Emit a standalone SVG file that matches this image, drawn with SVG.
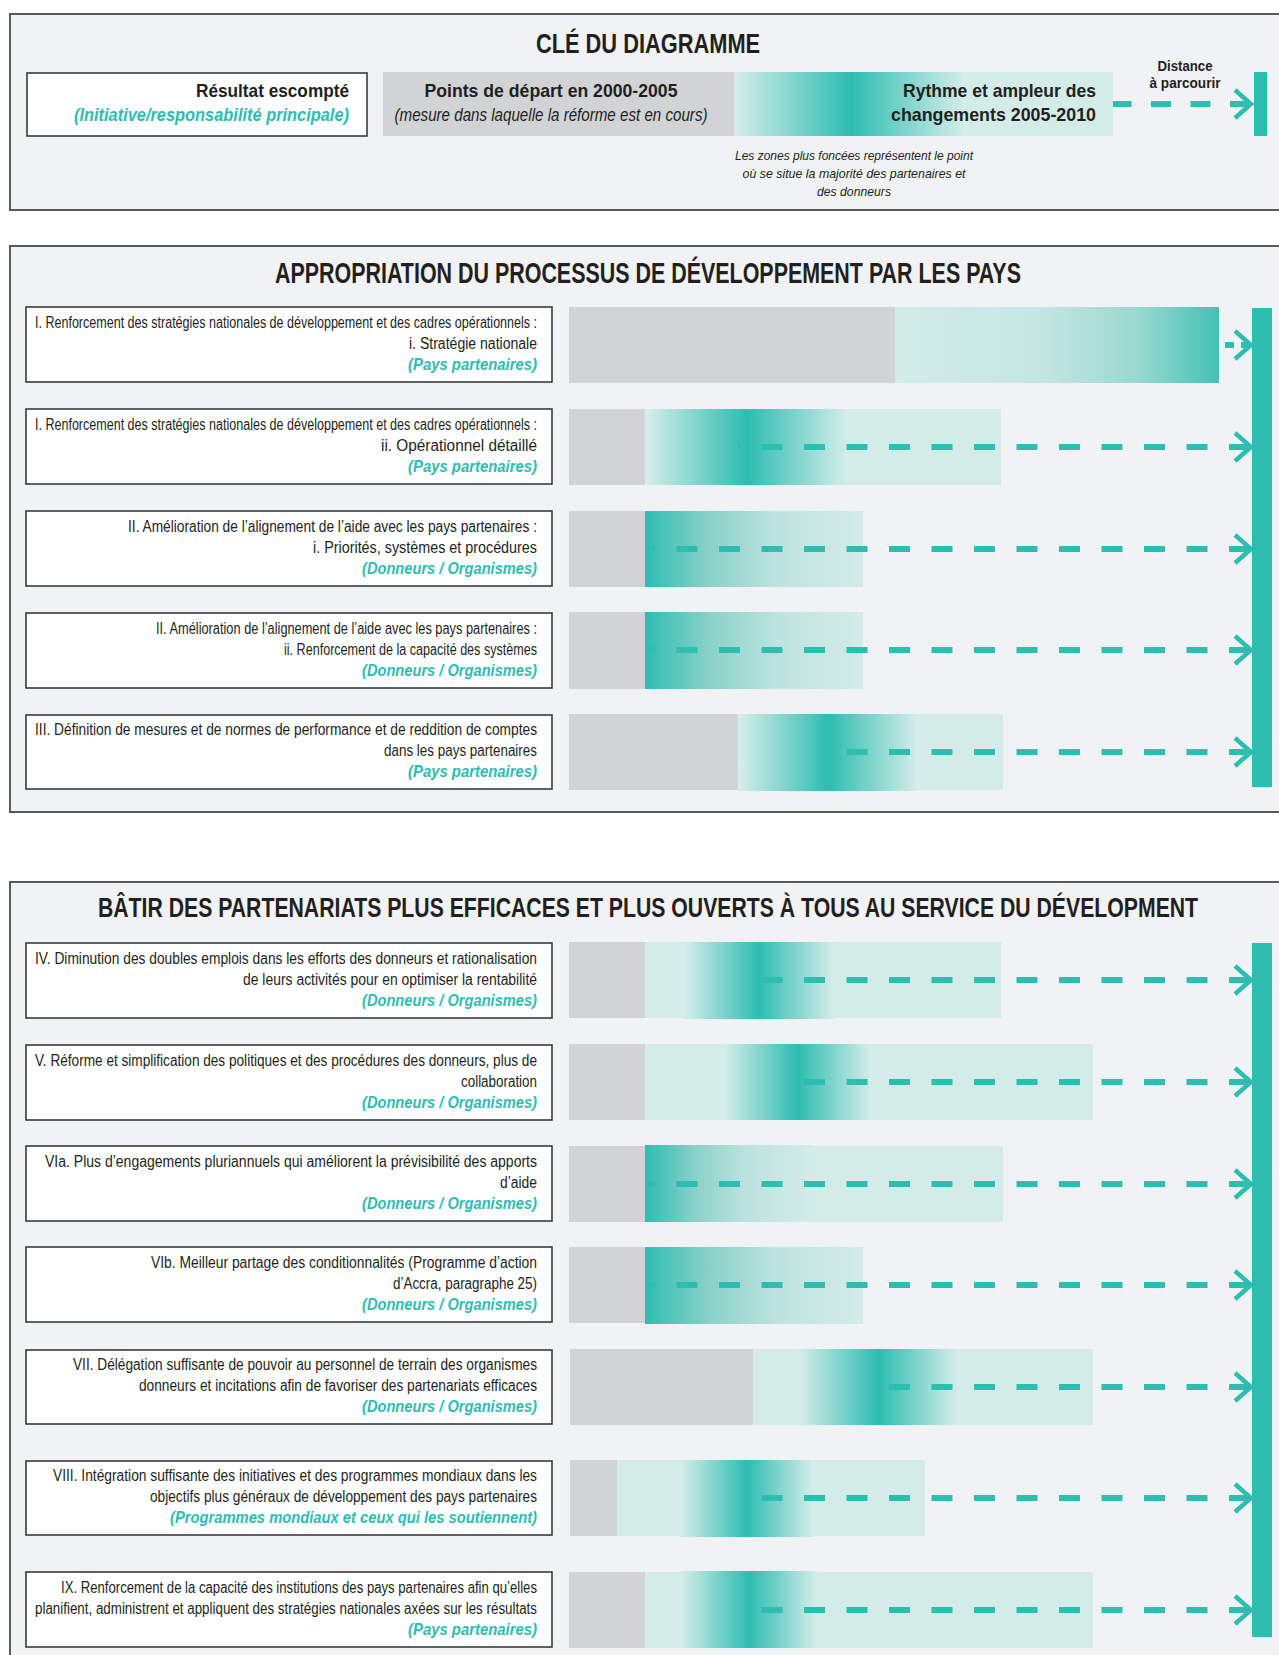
<svg xmlns="http://www.w3.org/2000/svg" width="1279" height="1655" viewBox="0 0 1279 1655">
<style>
.frame{fill:#f1f2f4;stroke:#58595b;stroke-width:2}
.box{fill:#ffffff;stroke:#3a3a3c;stroke-width:1.6}
.grey{fill:#d1d3d4}
.light{fill:#d3ece8}
.teal{fill:#2dbdb1}
.dash{fill:none;stroke:#2dbdb1;stroke-width:6;stroke-dasharray:21 21.5}
.chev{fill:none;stroke:#2dbdb1;stroke-width:4.5;stroke-linejoin:miter}
.t{font-family:"Liberation Sans Narrow","Liberation Sans",Arial,sans-serif;fill:#231f20;font-size:16px;text-anchor:end}
.lab{font-family:"Liberation Sans Narrow","Liberation Sans",Arial,sans-serif;fill:#2dbdb1;font-size:16.5px;font-weight:bold;font-style:italic;text-anchor:end}
.title{font-family:"Liberation Sans Narrow","Liberation Sans",Arial,sans-serif;fill:#231f20;font-weight:bold;text-anchor:middle}
.kb{font-family:"Liberation Sans Narrow","Liberation Sans",Arial,sans-serif;fill:#231f20;font-weight:bold;font-size:19px}
.ki{font-family:"Liberation Sans Narrow","Liberation Sans",Arial,sans-serif;fill:#231f20;font-style:italic;font-size:18px}
.note{font-family:"Liberation Sans Narrow","Liberation Sans",Arial,sans-serif;fill:#231f20;font-style:italic;font-size:13.5px;text-anchor:middle}
</style>
<defs>
<linearGradient id="gc" x1="0" y1="0" x2="1" y2="0">
<stop offset="0" stop-color="#d7eeea"/>
<stop offset="0.5" stop-color="#2dbdb1"/>
<stop offset="1" stop-color="#d7eeea"/>
</linearGradient>
<linearGradient id="gl" x1="0" y1="0" x2="1" y2="0">
<stop offset="0" stop-color="#2dbdb1"/>
<stop offset="0.3" stop-color="#8ad2c9"/>
<stop offset="0.6" stop-color="#bde3de"/>
<stop offset="1" stop-color="#d3ece8"/>
</linearGradient>
<linearGradient id="gr" x1="0" y1="0" x2="1" y2="0">
<stop offset="0" stop-color="#d3ece8"/>
<stop offset="0.45" stop-color="#c4e6e1"/>
<stop offset="0.75" stop-color="#9ad8cf"/>
<stop offset="1" stop-color="#45c1b5"/>
</linearGradient>
</defs>

<!-- Frames -->
<rect class="frame" x="10" y="14" width="1300" height="196"/>
<rect class="frame" x="10" y="246" width="1300" height="566"/>
<rect class="frame" x="10" y="882" width="1300" height="800"/>

<!-- Key -->
<g id="key">
<text class="title" transform="translate(648 53) scale(0.75 1)" x="0" y="0" font-size="28" textLength="299" lengthAdjust="spacingAndGlyphs">CLÉ DU DIAGRAMME</text>
<rect class="box" x="27" y="73" width="340" height="63"/>
<text class="kb" x="349" y="97" text-anchor="end" textLength="153" lengthAdjust="spacingAndGlyphs">Résultat escompté</text>
<text class="kb" x="349" y="121" text-anchor="end" font-style="italic" style="fill:#2dbdb1;font-size:18px" textLength="275" lengthAdjust="spacingAndGlyphs">(Initiative/responsabilité principale)</text>
<rect class="grey" x="383" y="72" width="351" height="64"/>
<text class="kb" x="551" y="97" text-anchor="middle" textLength="253" lengthAdjust="spacingAndGlyphs">Points de départ en 2000-2005</text>
<text class="ki" x="551" y="121" text-anchor="middle" textLength="313" lengthAdjust="spacingAndGlyphs">(mesure dans laquelle la réforme est en cours)</text>
<rect class="light" x="734" y="72" width="379" height="64"/>
<rect fill="url(#gc)" x="734" y="72" width="232" height="64"/>
<text class="kb" x="1096" y="97" text-anchor="end" textLength="193" lengthAdjust="spacingAndGlyphs">Rythme et ampleur des</text>
<text class="kb" x="1096" y="121" text-anchor="end" textLength="205" lengthAdjust="spacingAndGlyphs">changements 2005-2010</text>
<text class="kb" x="1185" y="71" text-anchor="middle" style="font-size:14px" textLength="55" lengthAdjust="spacingAndGlyphs">Distance</text>
<text class="kb" x="1185" y="88" text-anchor="middle" style="font-size:14px" textLength="71" lengthAdjust="spacingAndGlyphs">à parcourir</text>
<rect class="teal" x="1254" y="72" width="13" height="64"/>
<text class="note" x="854" y="160" textLength="238" lengthAdjust="spacingAndGlyphs">Les zones plus foncées représentent le point</text>
<text class="note" x="854" y="178" textLength="223" lengthAdjust="spacingAndGlyphs">où se situe la majorité des partenaires et</text>
<text class="note" x="854" y="196" textLength="74" lengthAdjust="spacingAndGlyphs">des donneurs</text>
</g>

<!-- Section 2 -->
<g id="section-appropriation">
<text class="title" transform="translate(648 283) scale(0.72 1)" x="0" y="0" font-size="29" textLength="1036" lengthAdjust="spacingAndGlyphs">APPROPRIATION DU PROCESSUS DE DÉVELOPPEMENT PAR LES PAYS</text>
<rect class="teal" x="1252" y="308" width="20" height="479"/>
</g>

<g id="row-I-i">
<rect class="box" x="26" y="307" width="526" height="75"/>
<text class="t" x="537" y="328" textLength="502" lengthAdjust="spacingAndGlyphs">I. Renforcement des stratégies nationales de développement et des cadres opérationnels :</text>
<text class="t" x="537" y="349" textLength="128" lengthAdjust="spacingAndGlyphs">i. Stratégie nationale</text>
<text class="lab" x="537" y="370" textLength="129" lengthAdjust="spacingAndGlyphs">(Pays partenaires)</text>
<rect class="grey" x="569" y="307" width="326" height="76"/>
<rect fill="url(#gr)" x="895" y="307" width="324" height="76"/>
</g>

<g id="row-I-ii">
<rect class="box" x="26" y="409" width="526" height="75"/>
<text class="t" x="537" y="430" textLength="502" lengthAdjust="spacingAndGlyphs">I. Renforcement des stratégies nationales de développement et des cadres opérationnels :</text>
<text class="t" x="537" y="451" textLength="156" lengthAdjust="spacingAndGlyphs">ii. Opérationnel détaillé</text>
<text class="lab" x="537" y="472" textLength="129" lengthAdjust="spacingAndGlyphs">(Pays partenaires)</text>
<rect class="grey" x="569" y="409" width="76" height="76"/>
<rect class="light" x="645" y="409" width="356" height="76"/>
<rect fill="url(#gc)" x="645" y="409" width="204" height="76"/>
</g>

<g id="row-II-i">
<rect class="box" x="26" y="511" width="526" height="75"/>
<text class="t" x="537" y="532" textLength="409" lengthAdjust="spacingAndGlyphs">II. Amélioration de l’alignement de l’aide avec les pays partenaires :</text>
<text class="t" x="537" y="553" textLength="224" lengthAdjust="spacingAndGlyphs">i. Priorités, systèmes et procédures</text>
<text class="lab" x="537" y="574" textLength="175" lengthAdjust="spacingAndGlyphs">(Donneurs / Organismes)</text>
<rect class="grey" x="569" y="511" width="76" height="76"/>
<rect fill="url(#gl)" x="645" y="511" width="218" height="76"/>
</g>

<g id="row-II-ii">
<rect class="box" x="26" y="613" width="526" height="75"/>
<text class="t" x="537" y="634" textLength="381" lengthAdjust="spacingAndGlyphs">II. Amélioration de l’alignement de l’aide avec les pays partenaires :</text>
<text class="t" x="537" y="655" textLength="253" lengthAdjust="spacingAndGlyphs">ii. Renforcement de la capacité des systèmes</text>
<text class="lab" x="537" y="676" textLength="175" lengthAdjust="spacingAndGlyphs">(Donneurs / Organismes)</text>
<rect class="grey" x="569" y="612" width="76" height="77"/>
<rect fill="url(#gl)" x="645" y="612" width="218" height="77"/>
</g>

<g id="row-III">
<rect class="box" x="26" y="715" width="526" height="74"/>
<text class="t" x="537" y="735" textLength="502" lengthAdjust="spacingAndGlyphs">III. Définition de mesures et de normes de performance et de reddition de comptes</text>
<text class="t" x="537" y="756" textLength="153" lengthAdjust="spacingAndGlyphs">dans les pays partenaires</text>
<text class="lab" x="537" y="777" textLength="129" lengthAdjust="spacingAndGlyphs">(Pays partenaires)</text>
<rect class="grey" x="569" y="714" width="169" height="76"/>
<rect class="light" x="738" y="714" width="265" height="76"/>
<rect fill="url(#gc)" x="738" y="714" width="181" height="77"/>
</g>

<!-- Section 3 -->
<g id="section-partenariats">
<text class="title" transform="translate(648 917) scale(0.72 1)" x="0" y="0" font-size="28.5" textLength="1528" lengthAdjust="spacingAndGlyphs">BÂTIR DES PARTENARIATS PLUS EFFICACES ET PLUS OUVERTS À TOUS AU SERVICE DU DÉVELOPMENT</text>
<rect class="teal" x="1252" y="943" width="20" height="694"/>
</g>

<g id="row-IV">
<rect class="box" x="26" y="943" width="526" height="75"/>
<text class="t" x="537" y="964" textLength="502" lengthAdjust="spacingAndGlyphs">IV. Diminution des doubles emplois dans les efforts des donneurs et rationalisation</text>
<text class="t" x="537" y="985" textLength="294" lengthAdjust="spacingAndGlyphs">de leurs activités pour en optimiser la rentabilité</text>
<text class="lab" x="537" y="1006" textLength="175" lengthAdjust="spacingAndGlyphs">(Donneurs / Organismes)</text>
<rect class="grey" x="569" y="942" width="76" height="76"/>
<rect class="light" x="645" y="942" width="356" height="76"/>
<rect fill="url(#gc)" x="683" y="942" width="152" height="77"/>
</g>

<g id="row-V">
<rect class="box" x="26" y="1045" width="526" height="75"/>
<text class="t" x="537" y="1066" textLength="502" lengthAdjust="spacingAndGlyphs">V. Réforme et simplification des politiques et des procédures des donneurs, plus de</text>
<text class="t" x="537" y="1087" textLength="76" lengthAdjust="spacingAndGlyphs">collaboration</text>
<text class="lab" x="537" y="1108" textLength="175" lengthAdjust="spacingAndGlyphs">(Donneurs / Organismes)</text>
<rect class="grey" x="569" y="1044" width="76" height="76"/>
<rect class="light" x="645" y="1044" width="448" height="76"/>
<rect fill="url(#gc)" x="723" y="1044" width="149" height="76"/>
</g>

<g id="row-VIa">
<rect class="box" x="26" y="1146" width="526" height="75"/>
<text class="t" x="537" y="1167" textLength="492" lengthAdjust="spacingAndGlyphs">VIa. Plus d’engagements pluriannuels qui améliorent la prévisibilité des apports</text>
<text class="t" x="537" y="1188" textLength="37" lengthAdjust="spacingAndGlyphs">d’aide</text>
<text class="lab" x="537" y="1209" textLength="175" lengthAdjust="spacingAndGlyphs">(Donneurs / Organismes)</text>
<rect class="grey" x="569" y="1146" width="76" height="76"/>
<rect class="light" x="645" y="1146" width="358" height="76"/>
<rect fill="url(#gl)" x="645" y="1145" width="169" height="77"/>
</g>

<g id="row-VIb">
<rect class="box" x="26" y="1247" width="526" height="75"/>
<text class="t" x="537" y="1268" textLength="386" lengthAdjust="spacingAndGlyphs">VIb. Meilleur partage des conditionnalités (Programme d’action</text>
<text class="t" x="537" y="1289" textLength="144" lengthAdjust="spacingAndGlyphs">d’Accra, paragraphe 25)</text>
<text class="lab" x="537" y="1310" textLength="175" lengthAdjust="spacingAndGlyphs">(Donneurs / Organismes)</text>
<rect class="grey" x="569" y="1247" width="76" height="76"/>
<rect fill="url(#gl)" x="645" y="1247" width="218" height="77"/>
</g>

<g id="row-VII">
<rect class="box" x="26" y="1350" width="526" height="74"/>
<text class="t" x="537" y="1370" textLength="464" lengthAdjust="spacingAndGlyphs">VII. Délégation suffisante de pouvoir au personnel de terrain des organismes</text>
<text class="t" x="537" y="1391" textLength="398" lengthAdjust="spacingAndGlyphs">donneurs et incitations afin de favoriser des partenariats efficaces</text>
<text class="lab" x="537" y="1412" textLength="175" lengthAdjust="spacingAndGlyphs">(Donneurs / Organismes)</text>
<rect class="grey" x="570" y="1349" width="183" height="76"/>
<rect class="light" x="753" y="1349" width="340" height="76"/>
<rect fill="url(#gc)" x="798" y="1349" width="161" height="76"/>
</g>

<g id="row-VIII">
<rect class="box" x="26" y="1461" width="526" height="74"/>
<text class="t" x="537" y="1481" textLength="484" lengthAdjust="spacingAndGlyphs">VIII. Intégration suffisante des initiatives et des programmes mondiaux dans les</text>
<text class="t" x="537" y="1502" textLength="387" lengthAdjust="spacingAndGlyphs">objectifs plus généraux de développement des pays partenaires</text>
<text class="lab" x="537" y="1523" textLength="367" lengthAdjust="spacingAndGlyphs">(Programmes mondiaux et ceux qui les soutiennent)</text>
<rect class="grey" x="570" y="1460" width="47" height="76"/>
<rect class="light" x="617" y="1460" width="308" height="76"/>
<rect fill="url(#gc)" x="680" y="1460" width="134" height="77"/>
</g>

<g id="row-IX">
<rect class="box" x="26" y="1572" width="526" height="75"/>
<text class="t" x="537" y="1593" textLength="476" lengthAdjust="spacingAndGlyphs">IX. Renforcement de la capacité des institutions des pays partenaires afin qu’elles</text>
<text class="t" x="537" y="1614" textLength="502" lengthAdjust="spacingAndGlyphs">planifient, administrent et appliquent des stratégies nationales axées sur les résultats</text>
<text class="lab" x="537" y="1635" textLength="129" lengthAdjust="spacingAndGlyphs">(Pays partenaires)</text>
<rect class="grey" x="569" y="1572" width="76" height="76"/>
<rect class="light" x="645" y="1572" width="448" height="76"/>
<rect fill="url(#gc)" x="680" y="1571" width="138" height="77"/>
</g>

<!-- Connectors -->
<g id="connectors">
<path class="dash" d="M1250 104H1113" style="stroke-dasharray:20 19.5"/>
<polyline class="chev" points="1235,90 1251,104 1235,118"/>

<path class="dash" d="M1250 345H1222" style="stroke-dasharray:9 7"/>
<polyline class="chev" points="1235,331 1251,345 1235,359"/>

<path class="dash" d="M1250 447H738"/>
<polyline class="chev" points="1235,433 1251,447 1235,461"/>

<path class="dash" d="M1250 549H647"/>
<polyline class="chev" points="1235,535 1251,549 1235,563"/>

<path class="dash" d="M1250 650H647"/>
<polyline class="chev" points="1235,636 1251,650 1235,664"/>

<path class="dash" d="M1250 752H833"/>
<polyline class="chev" points="1235,738 1251,752 1235,766"/>

<path class="dash" d="M1250 980H762"/>
<polyline class="chev" points="1235,966 1251,980 1235,994"/>

<path class="dash" d="M1250 1082H801"/>
<polyline class="chev" points="1235,1068 1251,1082 1235,1096"/>

<path class="dash" d="M1250 1184H647"/>
<polyline class="chev" points="1235,1170 1251,1184 1235,1198"/>

<path class="dash" d="M1250 1285H647"/>
<polyline class="chev" points="1235,1271 1251,1285 1235,1299"/>

<path class="dash" d="M1250 1387H886"/>
<polyline class="chev" points="1235,1373 1251,1387 1235,1401"/>

<path class="dash" d="M1250 1498H750"/>
<polyline class="chev" points="1235,1484 1251,1498 1235,1512"/>

<path class="dash" d="M1250 1610H755"/>
<polyline class="chev" points="1235,1596 1251,1610 1235,1624"/>
</g>
</svg>
